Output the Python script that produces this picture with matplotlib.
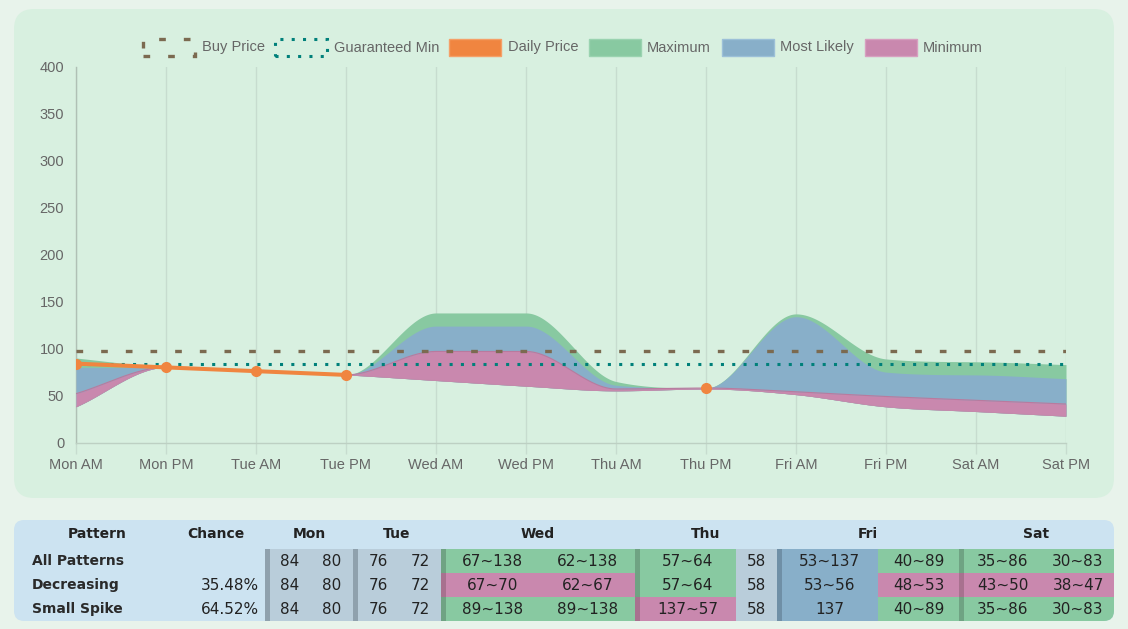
import numpy as np
import matplotlib
matplotlib.use("Agg")
import matplotlib.pyplot as plt
from matplotlib.patches import FancyBboxPatch, Rectangle

# ---------------- data ----------------
labels = ["Mon AM", "Mon PM", "Tue AM", "Tue PM", "Wed AM", "Wed PM",
          "Thu AM", "Thu PM", "Fri AM", "Fri PM", "Sat AM", "Sat PM"]
buy_price = 98
guaranteed_min = 84
daily_price = [84, 80, 76, 72, None, None, None, 58, None, None, None, None]
maximum = [90, 80, 76, 72, 138, 138, 65, 58, 137, 89, 86, 83]
likely_high = [80, 80, 76, 72, 124, 124, 61, 58, 134, 75, 72, 68]
likely_low = [52, 80, 76, 72, 97, 97, 57, 58, 54, 49, 45, 41]
minimum = [38, 80, 76, 72, 66, 60, 55, 57, 51, 38, 33, 28]
y_ticks = [0, 50, 100, 150, 200, 250, 300, 350, 400]

legend_labels = ["Buy Price", "Guaranteed Min", "Daily Price", "Maximum", "Most Likely", "Minimum"]

days = ["Mon", "Tue", "Wed", "Thu", "Fri", "Sat"]
patterns = ["All Patterns", "Decreasing", "Small Spike"]
chances = ["", "35.48%", "64.52%"]
row_all = ["84", "80", "76", "72", "67~138", "62~138", "57~64", "58", "53~137", "40~89", "35~86", "30~83"]
row_dec = ["84", "80", "76", "72", "67~70", "62~67", "57~64", "58", "53~56", "48~53", "43~50", "38~47"]
row_spike = ["84", "80", "76", "72", "89~138", "89~138", "137~57", "58", "137", "40~89", "35~86", "30~83"]
# cell kinds: k = known price, g = green, p = pink, b = blue
kind_all = ["k", "k", "k", "k", "g", "g", "g", "k", "b", "g", "g", "g"]
kind_dec = ["k", "k", "k", "k", "p", "p", "g", "k", "b", "p", "p", "p"]
kind_spike = ["k", "k", "k", "k", "g", "g", "p", "k", "b", "g", "g", "g"]

# ---------------- styles ----------------
W, H = 1128, 629
OUTER = "#E8F3EB"
CARD = "#D8F0E0"
TABLE_BG = "#CCE3F1"
GREEN = "#88C9A1"
BLUE = "#88AFC9"
PINK = "#C988AE"
ORANGE = "#F08540"
BROWN = "#7B6A50"
TEAL = "#00807A"
GRID = "#C7DCCF"
TICK_COLOR = "#666666"
fill_fc = {"k": "#B9CDDA", "g": GREEN, "p": PINK, "b": BLUE}
fill_ec = {"k": "#8FA1AD", "g": "#6FA383", "p": "#A8718F", "b": "#6F8FA6"}

CHART_FONT = ["Liberation Sans", "DejaVu Sans"]
TABLE_FONT = ["DejaVu Sans"]


def monotone(xs, ys, n=60):
    """Monotone cubic curve through the points (same rule as Chart.js)."""
    xs = np.asarray(xs, float)
    ys = np.asarray(ys, float)
    d = np.diff(ys) / np.diff(xs)
    m = np.zeros_like(ys)
    m[0] = d[0]
    m[-1] = d[-1]
    for i in range(1, len(ys) - 1):
        if np.sign(d[i - 1]) != np.sign(d[i]):
            m[i] = 0.0
        else:
            m[i] = (d[i - 1] + d[i]) / 2
    for i in range(len(ys) - 1):
        if abs(d[i]) < 1e-9:
            m[i] = m[i + 1] = 0.0
            continue
        a = m[i] / d[i]
        b = m[i + 1] / d[i]
        s = a * a + b * b
        if s <= 9:
            continue
        tau = 3 / np.sqrt(s)
        m[i] = a * tau * d[i]
        m[i + 1] = b * tau * d[i]
    out_x, out_y = [], []
    for i in range(len(ys) - 1):
        h = xs[i + 1] - xs[i]
        t = np.linspace(0, 1, n, endpoint=(i == len(ys) - 2))
        h00 = 2 * t**3 - 3 * t**2 + 1
        h10 = t**3 - 2 * t**2 + t
        h01 = -2 * t**3 + 3 * t**2
        h11 = t**3 - t**2
        out_x.append(xs[i] + t * h)
        out_y.append(h00 * ys[i] + h10 * h * m[i] + h01 * ys[i + 1] + h11 * h * m[i + 1])
    return np.concatenate(out_x), np.concatenate(out_y)


fig = plt.figure(figsize=(W / 100, H / 100), dpi=100, facecolor=OUTER)

# background / overlay axes in pixel coordinates (y measured from bottom)
bg = fig.add_axes([0, 0, 1, 1], zorder=0)
bg.set_xlim(0, W)
bg.set_ylim(0, H)
bg.axis("off")


def Y(y):
    return H - y


card = FancyBboxPatch((14, Y(498)), 1100, 489, boxstyle="round,pad=0,rounding_size=20",
                      fc=CARD, ec="none")
bg.add_patch(card)

# ---------------- chart ----------------
L, R, T, B = 76, 1066, 67, 442.5
ax = fig.add_axes([L / W, (H - B) / H, (R - L) / W, (B - T) / H], zorder=1)
ax.set_facecolor("none")
x = np.arange(len(labels))
ax.set_xlim(0, len(labels) - 1)
ax.set_ylim(0, 400)

cx, cmax = monotone(x, maximum)
_, chi = monotone(x, likely_high)
_, clo = monotone(x, likely_low)
_, cmin = monotone(x, minimum)
ax.fill_between(cx, cmin, cmax, color=GREEN, lw=0, zorder=2)
ax.fill_between(cx, cmin, chi, color=BLUE, lw=0, zorder=3)
ax.fill_between(cx, cmin, clo, color=PINK, lw=0, zorder=4)
ax.plot(cx, clo, color="#B97A9E", lw=0.8, zorder=4.5)
ax.plot(cx, cmin, color="#C48AAB", lw=0.6, zorder=4.5)

ax.plot(x, [buy_price] * len(x), color=BROWN, lw=2.4,
        linestyle=(0, (2.0, 5.4)), dash_capstyle="butt", zorder=6)
ax.plot(x, [guaranteed_min] * len(x), color=TEAL, lw=2.2,
        linestyle=(0, (1.0, 2.7)), dash_capstyle="butt", zorder=6)

dp = np.array([np.nan if v is None else v for v in daily_price], float)
ax.plot(x, dp, color=ORANGE, lw=2.9, marker="o", markersize=7, zorder=7,
        solid_capstyle="round")

ax.set_xticks(x)
ax.set_xticklabels(labels)
ax.set_yticks(y_ticks)
ax.set_yticklabels([str(v) for v in y_ticks])
for lab in ax.get_xticklabels() + ax.get_yticklabels():
    lab.set_family(CHART_FONT)
    lab.set_fontsize(10.5)
    lab.set_color(TICK_COLOR)
ax.tick_params(axis="x", length=8, width=1, color=GRID, pad=3)
ax.tick_params(axis="y", length=0, pad=8.5)
ax.grid(axis="x", color=GRID, lw=1, zorder=1)
ax.grid(axis="y", visible=False)
ax.set_axisbelow(True)
for s in ["top", "right"]:
    ax.spines[s].set_visible(False)
ax.spines["bottom"].set_color("#BDD0C3")
ax.spines["left"].set_color("#B0C0B5")
ax.spines["bottom"].set_linewidth(1)
ax.spines["left"].set_linewidth(1)

# ---------------- legend ----------------
box_x = [143, 275, 449, 589, 722, 865]
text_x = [202, 334, 508, 647, 780, 923]
bw, bh, by = 52, 17, 39
bg.add_patch(Rectangle((box_x[0], Y(by + bh)), bw, bh, fc="none", ec=BROWN, lw=2.4,
                       linestyle=(0, (2.0, 5.4))))
bg.add_patch(Rectangle((box_x[1], Y(by + bh)), bw, bh, fc="none", ec=TEAL, lw=2.2,
                       linestyle=(0, (1.0, 2.7))))
for bx, fc, ec in zip(box_x[2:], [ORANGE, GREEN, BLUE, PINK],
                      ["#F5A068", "#9AD3B0", "#9CC0D8", "#D7A0C0"]):
    bg.add_patch(Rectangle((bx, Y(by + bh)), bw, bh, fc=fc, ec=ec, lw=1))
for tx, lab in zip(text_x, legend_labels):
    bg.text(tx, Y(by + bh / 2), lab, ha="left", va="center", fontsize=10.5,
            color=TICK_COLOR, family=CHART_FONT)

# ---------------- table ----------------
tx0, tx1, ty0, ty1 = 14, 1114, 520, 621
tbl = FancyBboxPatch((tx0, Y(ty1)), tx1 - tx0, ty1 - ty0,
                     boxstyle="round,pad=0,rounding_size=10", fc=TABLE_BG, ec="none")
bg.add_patch(tbl)

group_edges = [265, 353, 441, 635, 777, 959, 1114]
border_w = [4.5, 4.5, 4.5, 4.5, 4.5, 4.5]
cell_edges = [(269.5, 310), (310, 353), (357.5, 399), (399, 441),
              (445.5, 540), (540, 635), (639.5, 736), (736, 777),
              (781.5, 878), (878, 959), (963.5, 1042), (1042, 1114)]
group_of_cell = [0, 0, 1, 1, 2, 2, 3, 3, 4, 4, 5, 5]
row_tops = [549, 573, 597]
row_h = 24
header_y = 534.5

bg.text(97, Y(header_y), "Pattern", ha="center", va="center", fontsize=10,
        weight="bold", color="#222222", family=TABLE_FONT)
bg.text(216, Y(header_y), "Chance", ha="center", va="center", fontsize=10,
        weight="bold", color="#222222", family=TABLE_FONT)
for gi, day in enumerate(days):
    cxm = (group_edges[gi] + group_edges[gi + 1]) / 2
    bg.text(cxm, Y(header_y), day, ha="center", va="center", fontsize=10,
            weight="bold", color="#222222", family=TABLE_FONT)

rows = [row_all, row_dec, row_spike]
kinds = [kind_all, kind_dec, kind_spike]
for ri in range(3):
    top = row_tops[ri]
    ymid = top + row_h / 2
    bg.text(32, Y(ymid), patterns[ri], ha="left", va="center", fontsize=10,
            weight="bold", color="#2A2A2A", family=TABLE_FONT)
    if chances[ri]:
        bg.text(259, Y(ymid), chances[ri], ha="right", va="center", fontsize=11,
                color="#222222", family=TABLE_FONT)
    for ci, (a, b) in enumerate(cell_edges):
        k = kinds[ri][ci]
        r = Rectangle((a, Y(top + row_h)), b - a, row_h, fc=fill_fc[k], ec="none", lw=0)
        bg.add_patch(r)
        r.set_clip_path(tbl)
        bg.text((a + b) / 2, Y(ymid), rows[ri][ci], ha="center", va="center",
                fontsize=11, color="#222222", family=TABLE_FONT)
    # group left borders, coloured after the first cell of each group
    for gi in range(6):
        first = group_of_cell.index(gi)
        k = kinds[ri][first]
        br = Rectangle((group_edges[gi], Y(top + row_h)), border_w[gi], row_h,
                       fc=fill_ec[k], ec="none", lw=0)
        bg.add_patch(br)
        br.set_clip_path(tbl)

fig.savefig("out.png", dpi=100, facecolor=OUTER)
